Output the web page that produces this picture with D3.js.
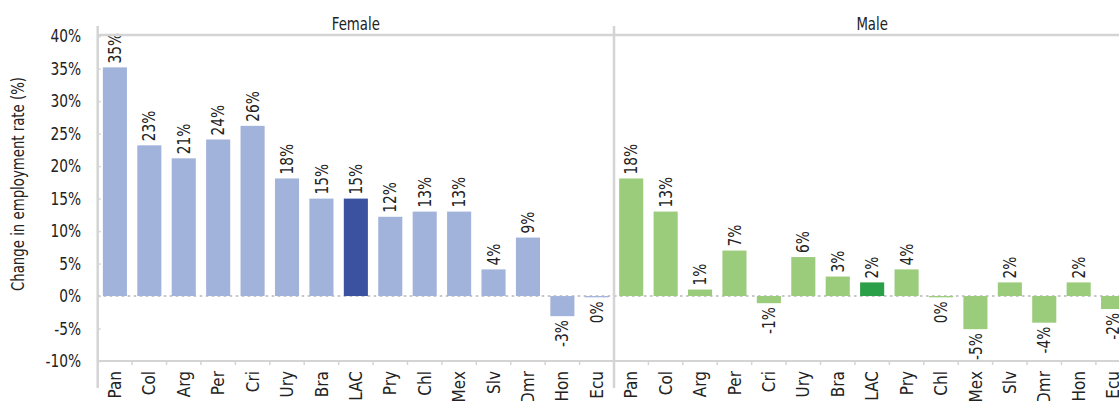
<!DOCTYPE html>
<html><head><meta charset="utf-8">
<script src="https://cdn.jsdelivr.net/npm/d3@7"></script>
<style>
html,body{margin:0;padding:0;background:#fff;overflow:hidden}
svg{display:block}
text{font-family:"DejaVu Sans Condensed","Liberation Sans Narrow",sans-serif;fill:#222}
</style></head>
<body><svg id="c" width="1119" height="401"></svg>
<script>
const categories = ["Pan","Col","Arg","Per","Cri","Ury","Bra","LAC","Pry","Chl","Mex","Slv","Dmr","Hon","Ecu"];
const femaleValues = [35.2,23.2,21.2,24.1,26.2,18.1,15.0,15.0,12.2,13.0,13.0,4.1,9.0,-3.1,-0.2];
const maleValues = [18.1,13.0,1.0,7.0,-1.1,6.0,3.0,2.1,4.1,-0.2,-5.1,2.1,-4.1,2.1,-2.0];
const femaleLabels = ["35%","23%","21%","24%","26%","18%","15%","15%","12%","13%","13%","4%","9%","-3%","0%"];
const maleLabels = ["18%","13%","1%","7%","-1%","6%","3%","2%","4%","0%","-5%","2%","-4%","2%","-2%"];
const panels = ["Female","Male"];
const yTicks = [-10,-5,0,5,10,15,20,25,30,35,40];
const yTitle = "Change in employment rate (%)";

(function(){
const svg = d3.select("#c");
const W = 1119;
const plotLeft = 97.7, panelW = 516.3, plotTop = 36.2, plotBottom = 361;
const grid = "#d4d4d4";
const SQ = 0.9; // condense factor
const FS = "17px";
const y = d3.scaleLinear().domain([-10,40]).range([plotBottom, plotTop]);

const fCol = "#a2b3db", fDark = "#3b52a0", mCol = "#9bcc7c", mDark = "#2ba048";

const yAxis = d3.axisLeft(y).tickValues(yTicks).tickSize(3);
const gy = svg.append("g").attr("transform", `translate(${plotLeft},0)`).call(yAxis);
gy.select(".domain").remove();
gy.selectAll(".tick text").remove();
gy.selectAll(".tick line").attr("stroke", grid).attr("x2", 3).attr("stroke-width", 1.5);
svg.append("g").selectAll("text").data(yTicks).join("text")
  .attr("transform", d => `translate(81,${y(d)}) scale(${SQ},1)`)
  .attr("text-anchor", "end").attr("dy", "0.36em").style("font-size", FS)
  .text(d => d + "%");

svg.append("text").attr("transform", `translate(24,184) rotate(-90) scale(0.87,1)`)
  .attr("text-anchor", "middle").style("font-size", FS).text(yTitle);

const datasets = [
  {name: panels[0], vals: femaleValues, labels: femaleLabels, col: fCol, dark: fDark},
  {name: panels[1], vals: maleValues, labels: maleLabels, col: mCol, dark: mDark}
];

datasets.forEach((ds, i) => {
  const x0 = plotLeft + i * panelW;
  const x = d3.scaleBand().domain(categories).range([x0, x0 + panelW]).paddingInner(0.3).paddingOuter(0.15);
  const g = svg.append("g");
  const step = x.step();

  g.append("line").attr("x1", x0).attr("x2", x0 + panelW).attr("y1", y(0)).attr("y2", y(0))
    .attr("stroke", "#c8c8c8").attr("stroke-width", 2).attr("stroke-dasharray", "2.5,3.5");

  g.selectAll("rect").data(categories).join("rect")
    .attr("x", d => x(d)).attr("width", x.bandwidth())
    .attr("y", (d, k) => y(Math.max(0, ds.vals[k])))
    .attr("height", (d, k) => Math.abs(y(ds.vals[k]) - y(0)))
    .attr("fill", d => d === "LAC" ? ds.dark : ds.col);

  g.selectAll("text.val").data(categories).join("text").attr("class", "val")
    .attr("transform", (d, k) => {
      const v = ds.vals[k];
      const yy = v >= 0 ? y(v) - 4 : y(v) + 4;
      return `translate(${x(d) + x.bandwidth() / 2},${yy}) rotate(-90) scale(${SQ},1)`;
    })
    .attr("text-anchor", (d, k) => ds.vals[k] >= 0 ? "start" : "end")
    .attr("dy", "0.36em").style("font-size", FS)
    .text((d, k) => ds.labels[k]);

  const xAxis = d3.axisBottom(x).tickSize(0).tickPadding(0);
  const gx = g.append("g").attr("transform", `translate(0,${plotBottom})`).call(xAxis);
  gx.select(".domain").remove();
  gx.selectAll(".tick text")
    .attr("transform", `rotate(-90)`).attr("text-anchor", "end")
    .attr("x", -10).attr("y", 0).attr("dy", "0.36em")
    .style("font-size", FS).attr("fill", "#222");
  g.append("line").attr("x1", x0).attr("x2", x0 + panelW).attr("y1", plotBottom).attr("y2", plotBottom)
    .attr("stroke", grid).attr("stroke-width", 2);
  g.selectAll("line.tk").data(categories.slice(1)).join("line").attr("class", "tk")
    .attr("x1", d => x(d) - step * 0.15).attr("x2", d => x(d) - step * 0.15)
    .attr("y1", plotBottom).attr("y2", plotBottom + 4).attr("stroke", grid).attr("stroke-width", 1.5);

  g.append("text").attr("transform", `translate(${x0 + panelW / 2},30) scale(0.87,1)`).attr("text-anchor", "middle")
    .style("font-size", FS).text(ds.name);
});

svg.append("line").attr("x1", plotLeft).attr("x2", W).attr("y1", 35).attr("y2", 35).attr("stroke", grid).attr("stroke-width", 2.5);
svg.append("line").attr("x1", plotLeft).attr("x2", plotLeft).attr("y1", 26).attr("y2", 388).attr("stroke", grid).attr("stroke-width", 2.5);
svg.append("line").attr("x1", plotLeft + panelW).attr("x2", plotLeft + panelW).attr("y1", 26).attr("y2", 388).attr("stroke", grid).attr("stroke-width", 2.5);
})();
</script></body></html>
